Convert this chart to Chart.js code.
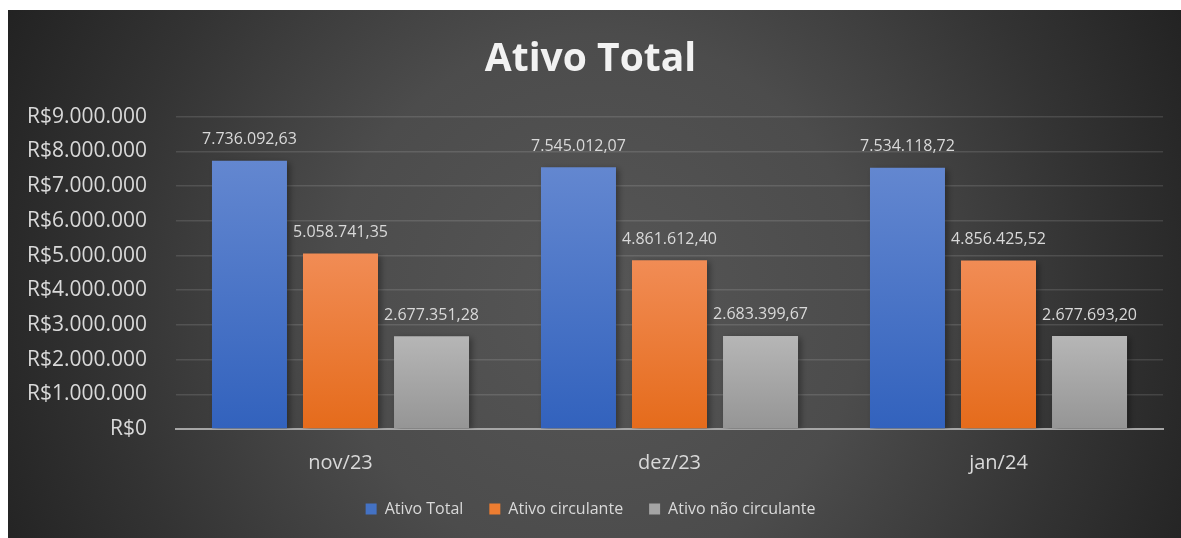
<!DOCTYPE html>
<html><head><meta charset="utf-8">
<script src="https://cdn.jsdelivr.net/npm/chart.js@4.4.1/dist/chart.umd.min.js"></script>
<style>
html,body{margin:0;padding:0;background:#fff;width:1181px;height:538px;overflow:hidden}
#wrap{position:absolute;left:8px;top:10px;width:1173px;height:528px}
</style></head><body>
<div id="wrap"><canvas id="c"></canvas></div>
<script>
const categories = ['nov/23', 'dez/23', 'jan/24'];
const seriesNames = ['Ativo Total', 'Ativo circulante', 'Ativo não circulante'];
const ativoTotal = [7736092.63, 7545012.07, 7534118.72];
const ativoCirculante = [5058741.35, 4861612.40, 4856425.52];
const ativoNaoCirculante = [2677351.28, 2683399.67, 2677693.20];
const yTickMin = 0;
const yTickMax = 9000000;
const yTickStep = 1000000;

const FONT = '"Open Sans", "DejaVu Sans", sans-serif';
const TEXT = '#d9d9d9';

function groupInt(s) { return s.replace(/\B(?=(\d{3})+(?!\d))/g, '.'); }
function fmtMoney(v) { return 'R$' + groupInt(Math.round(v).toString()); }
function fmtDec(v) {
  const p = v.toFixed(2).split('.');
  return groupInt(p[0]) + ',' + p[1];
}

const palette = [
  { solid: '#4472c4', top: '#6387d0', bottom: '#3262bd' },
  { solid: '#ed7d31', top: '#f18c55', bottom: '#e56b1b' },
  { solid: '#a5a5a5', top: '#b6b6b6', bottom: '#959595' }
];

function barGradient(i) {
  return (ctx) => {
    const chart = ctx.chart;
    const area = chart.chartArea;
    if (!area || ctx.raw === undefined) return palette[i].solid;
    const top = chart.scales.y.getPixelForValue(ctx.raw);
    const g = chart.ctx.createLinearGradient(0, top, 0, area.bottom);
    g.addColorStop(0, palette[i].top);
    g.addColorStop(1, palette[i].bottom);
    return g;
  };
}

const bgPlugin = {
  id: 'bg',
  beforeDraw(chart) {
    const c = chart.ctx;
    const w = chart.width, h = chart.height;
    c.save();
    const g = c.createRadialGradient(590, 290, 0, 590, 290, 700);
    g.addColorStop(0, '#565656');
    g.addColorStop(0.38, '#4c4c4c');
    g.addColorStop(0.7, '#333333');
    g.addColorStop(1, '#1e1e1e');
    c.fillStyle = g;
    c.fillRect(0, 0, w, h);
    c.restore();
  }
};

const labelPlugin = {
  id: 'vals',
  beforeDatasetsDraw(chart) {
    const c = chart.ctx;
    c.save();
    c.shadowColor = 'rgba(0,0,0,0.35)';
    c.shadowBlur = 6;
    c.shadowOffsetX = 3;
    c.shadowOffsetY = 2;
  },
  afterDatasetsDraw(chart) {
    const c = chart.ctx;
    c.restore();
    c.save();
    c.font = '16px ' + FONT;
    c.fillStyle = TEXT;
    c.textAlign = 'center';
    c.textBaseline = 'middle';
    chart.data.datasets.forEach((ds, di) => {
      const meta = chart.getDatasetMeta(di);
      meta.data.forEach((el, i) => {
        c.fillText(fmtDec(ds.data[i]), el.x, el.y - 21);
      });
    });
    c.restore();
  }
};

const allSeries = [ativoTotal, ativoCirculante, ativoNaoCirculante];

new Chart(document.getElementById('c'), {
  type: 'bar',
  data: {
    labels: categories,
    datasets: allSeries.map((d, i) => ({
      label: seriesNames[i],
      data: d,
      backgroundColor: barGradient(i),
      borderWidth: 0,
      categoryPercentage: 0.83,
      barPercentage: 0.824
    }))
  },
  options: {
    responsive: true,
    maintainAspectRatio: false,
    animation: false,
    layout: { padding: { left: 10, right: 18, top: 0, bottom: 11 } },
    plugins: {
      title: {
        display: true,
        text: 'Ativo Total',
        color: '#f2f2f2',
        font: { family: FONT, size: 39, weight: 'bold' },
        padding: { top: 26, bottom: 34 }
      },
      legend: {
        position: 'bottom',
        labels: {
          boxWidth: 11,
          boxHeight: 11,
          padding: 26,
          color: TEXT,
          font: { family: FONT, size: 16 },
          generateLabels(chart) {
            return chart.data.datasets.map((ds, i) => ({
              text: ds.label,
              fillStyle: palette[i].solid,
              strokeStyle: palette[i].solid,
              lineWidth: 0,
              fontColor: TEXT,
              hidden: false,
              datasetIndex: i
            }));
          }
        }
      },
      tooltip: { enabled: false }
    },
    scales: {
      x: {
        grid: { display: false, drawTicks: false },
        border: { display: true, color: '#a6a6a6', width: 2 },
        ticks: { color: TEXT, font: { family: FONT, size: 20 }, padding: 22 },
        afterFit(s) { s.height = 46; }
      },
      y: {
        min: yTickMin,
        max: yTickMax,
        grid: { color: 'rgba(255,255,255,0.12)', lineWidth: 1.5, drawTicks: false },
        border: { display: false },
        ticks: {
          stepSize: yTickStep,
          color: TEXT,
          font: { family: FONT, size: 21 },
          padding: 29,
          callback: (v) => fmtMoney(v)
        },
        afterFit(s) { s.width = 158; }
      }
    }
  },
  plugins: [bgPlugin, labelPlugin]
});
</script>
</body></html>
